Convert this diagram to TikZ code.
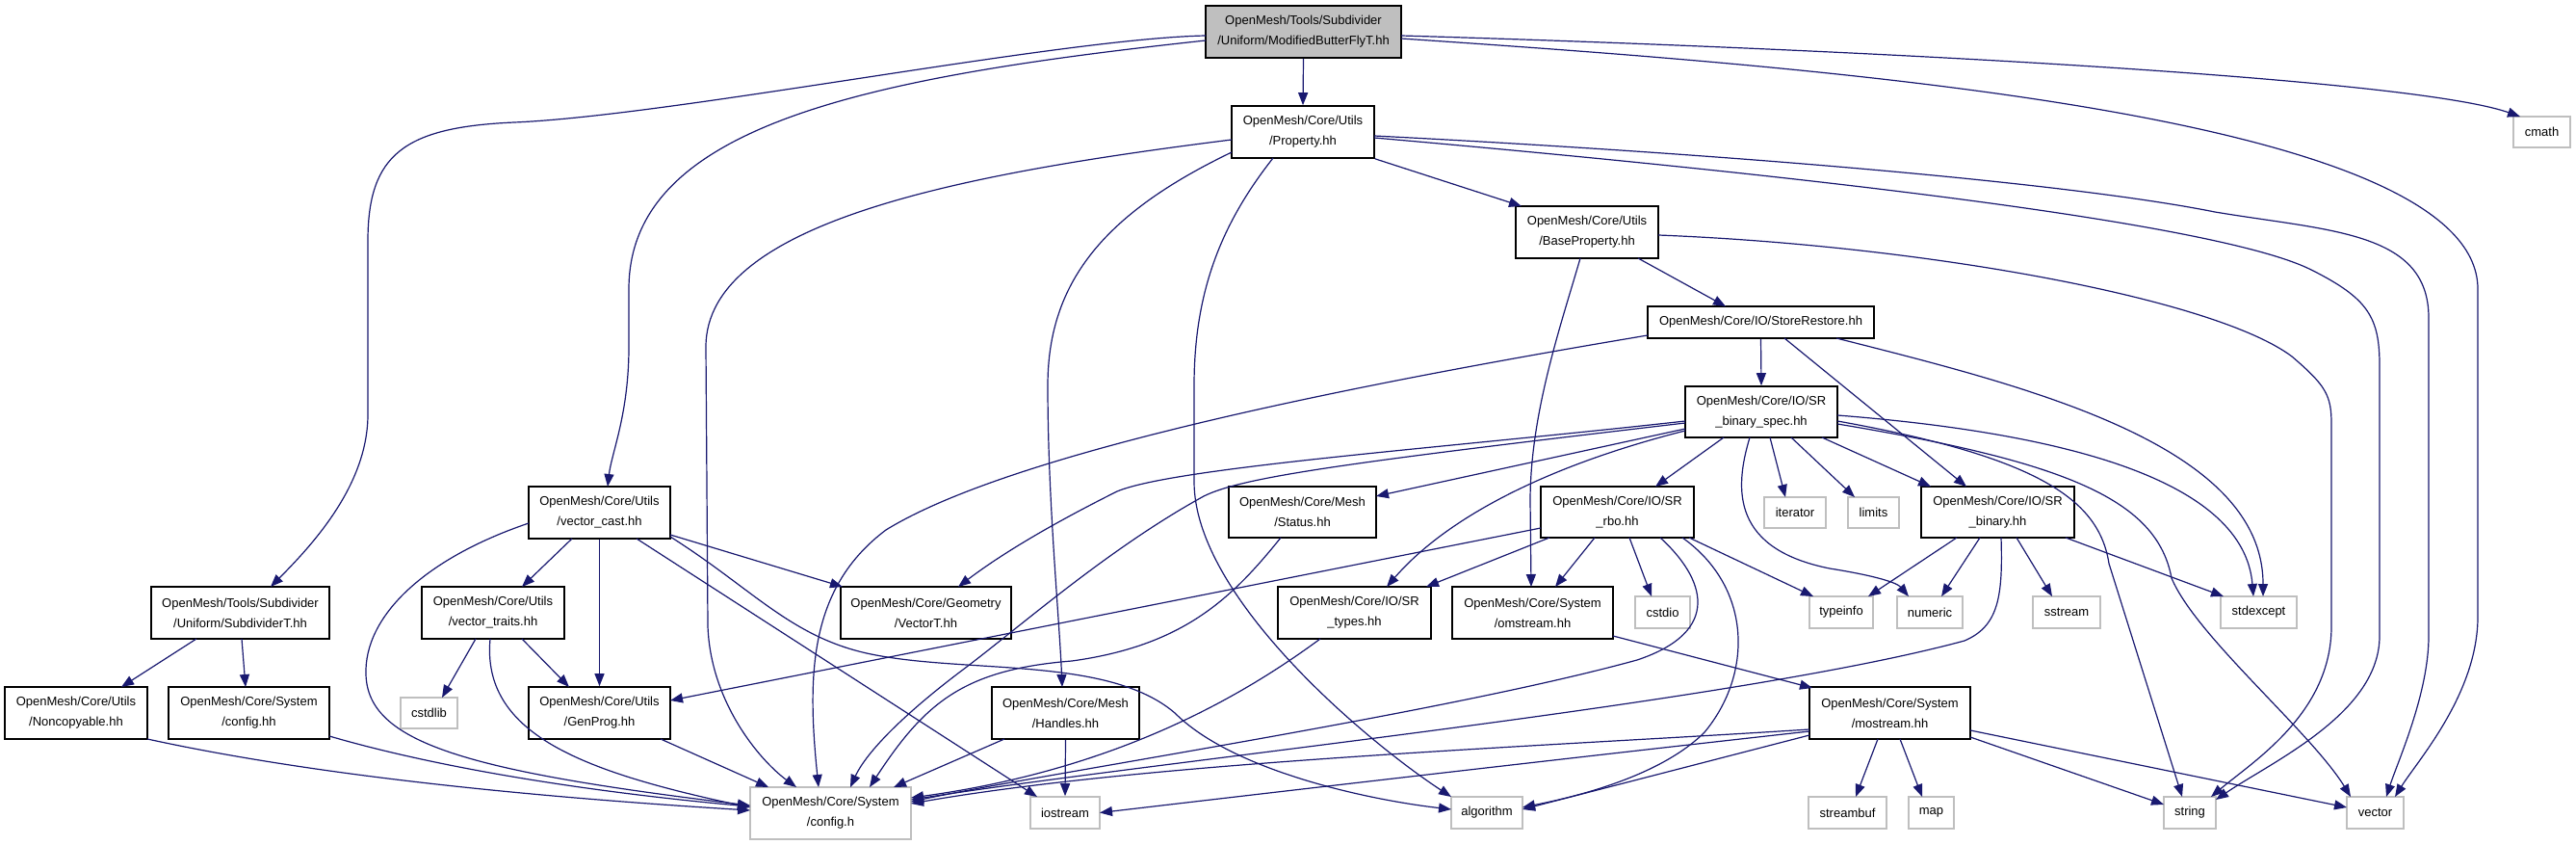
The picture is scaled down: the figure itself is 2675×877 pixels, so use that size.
\documentclass[tikz,border=0pt]{standalone}
\usepackage{fontspec}
\setmainfont{Liberation Sans}
\usetikzlibrary{arrows.meta}
\definecolor{edgec}{HTML}{191970}
\definecolor{greyb}{HTML}{BFBFBF}
\begin{document}
\begin{tikzpicture}[x=0.5pt,y=-0.5pt,
  box/.style={draw, line width=0.8pt, inner sep=0pt, align=center, font=\fontsize{6.5pt}{10.5pt}\selectfont},
  doc/.style={box, draw=black},
  ext/.style={box, draw=greyb},
  rootbox/.style={box, draw=black, fill=greyb},
  dep/.style={draw=edgec, line width=0.6pt, -{Triangle[length=6.5pt,width=5pt]}},
]
\fill[white] (0,0) rectangle (2675,877);
\useasboundingbox (0,0) rectangle (2675,877);

% rank 0
\node[rootbox, minimum width=101.5pt, minimum height=27pt] (root) at (1353.5,33) {OpenMesh/Tools/Subdivider\\/Uniform/ModifiedButterFlyT.hh};
% rank 1
\node[doc, minimum width=74pt, minimum height=27pt] (prop) at (1353,137) {OpenMesh/Core/Utils\\/Property.hh};
\node[ext, minimum width=29.5pt, minimum height=16pt] (cmath) at (2639.5,137) {cmath};
% rank 2
\node[doc, minimum width=74pt, minimum height=27pt] (basep) at (1648,241) {OpenMesh/Core/Utils\\/BaseProperty.hh};
% rank 3
\node[doc, minimum width=117.5pt, minimum height=16.5pt] (store) at (1828.5,334.5) {OpenMesh/Core/IO/StoreRestore.hh};
% rank 4
\node[doc, minimum width=79pt, minimum height=26.5pt] (bspec) at (1829,427.5) {OpenMesh/Core/IO/SR\\\_binary\_spec.hh};
% rank 5
\node[doc, minimum width=73.5pt, minimum height=27pt] (vcast) at (622.5,532) {OpenMesh/Core/Utils\\/vector\_cast.hh};
\node[doc, minimum width=76.5pt, minimum height=26.5pt] (status) at (1352.5,531.5) {OpenMesh/Core/Mesh\\/Status.hh};
\node[doc, minimum width=79.5pt, minimum height=26.5pt] (rbo) at (1679.5,531.5) {OpenMesh/Core/IO/SR\\\_rbo.hh};
\node[ext, minimum width=32pt, minimum height=16pt] (iter) at (1864,532) {iterator};
\node[ext, minimum width=26.5pt, minimum height=16pt] (limits) at (1945.5,532) {limits};
\node[doc, minimum width=79.5pt, minimum height=26.5pt] (binary) at (2074.5,531.5) {OpenMesh/Core/IO/SR\\\_binary.hh};
% rank 6
\node[doc, minimum width=92.5pt, minimum height=27pt] (subdiv) at (249.5,636) {OpenMesh/Tools/Subdivider\\/Uniform/SubdividerT.hh};
\node[doc, minimum width=74pt, minimum height=27pt] (vtraits) at (512,636) {OpenMesh/Core/Utils\\/vector\_traits.hh};
\node[doc, minimum width=88.5pt, minimum height=27pt] (vecT) at (961.5,636) {OpenMesh/Core/Geometry\\/VectorT.hh};
\node[doc, minimum width=79.5pt, minimum height=27pt] (srtypes) at (1406.5,636) {OpenMesh/Core/IO/SR\\\_types.hh};
\node[doc, minimum width=83.5pt, minimum height=27pt] (omstr) at (1591.5,636) {OpenMesh/Core/System\\/omstream.hh};
\node[ext, minimum width=28.5pt, minimum height=16.5pt] (cstdio) at (1726.5,635.5) {cstdio};
\node[ext, minimum width=33pt, minimum height=16.5pt] (typeinfo) at (1912,635.5) {typeinfo};
\node[ext, minimum width=34pt, minimum height=16.5pt] (numeric) at (2004,635.5) {numeric};
\node[ext, minimum width=35pt, minimum height=16.5pt] (sstream) at (2146,635.5) {sstream};
\node[ext, minimum width=39.5pt, minimum height=16.5pt] (stdexc) at (2345.5,635.5) {stdexcept};
% rank 7
\node[doc, minimum width=74pt, minimum height=27pt] (noncopy) at (79,740) {OpenMesh/Core/Utils\\/Noncopyable.hh};
\node[doc, minimum width=83.5pt, minimum height=27pt] (confhh) at (258.5,740) {OpenMesh/Core/System\\/config.hh};
\node[ext, minimum width=29.5pt, minimum height=16pt] (cstdlib) at (445.5,740) {cstdlib};
\node[doc, minimum width=73.5pt, minimum height=27pt] (genprog) at (622.5,740) {OpenMesh/Core/Utils\\/GenProg.hh};
\node[doc, minimum width=76.5pt, minimum height=27pt] (handles) at (1106.5,740) {OpenMesh/Core/Mesh\\/Handles.hh};
\node[doc, minimum width=83.5pt, minimum height=27pt] (mostr) at (1962.5,740) {OpenMesh/Core/System\\/mostream.hh};
% rank 8
\node[ext, minimum width=83.5pt, minimum height=27pt] (configh) at (862.5,844) {OpenMesh/Core/System\\/config.h};
\node[ext, minimum width=36pt, minimum height=16.5pt] (iostr) at (1106,843.5) {iostream};
\node[ext, minimum width=37pt, minimum height=16.5pt] (algo) at (1544,843.5) {algorithm};
\node[ext, minimum width=40.5pt, minimum height=16.5pt] (streambuf) at (1918.5,843.5) {streambuf};
\node[ext, minimum width=23.5pt, minimum height=16.5pt] (map) at (2005.5,843.5) {map};
\node[ext, minimum width=27pt, minimum height=16.5pt] (string) at (2274,843.5) {string};
\node[ext, minimum width=29.5pt, minimum height=16.5pt] (vector) at (2466.5,843.5) {vector};

% ---- edges from root
\draw[dep] (root.south) -- (prop.north);
\draw[dep] ([shift={(-101.5,9)}]root.center) .. controls (900,80) and (653,130) .. (653,300) -- (653,360) .. controls (653,430) and (635,470) .. ([shift={(8.5,-27)}]vcast.center);
\draw[dep] ([shift={(-101.5,4)}]root.center) .. controls (1100,40) and (700,120) .. (534,127) .. controls (420,132) and (382,160) .. (382,250) -- (382,430) .. controls (382,500) and (330,560) .. ([shift={(31.5,-27)}]subdiv.center);
\draw[dep] ([shift={(101.5,4)}]root.center) .. controls (1900,50) and (2500,80) .. ([shift={(-22.5,-16)}]cmath.center);
\draw[dep] ([shift={(101.5,7)}]root.center) .. controls (1900,70) and (2573,120) .. (2573,300) -- (2573,640) .. controls (2573,720) and (2510,790) .. ([shift={(20.5,-16.5)}]vector.center);

% ---- Property
\draw[dep] (prop.south east) -- ([shift={(-68,-27)}]basep.center);
\draw[dep] ([shift={(-74,8)}]prop.center) .. controls (1000,180) and (733,230) .. (733,360) -- (735,650) .. controls (738,730) and (790,790) .. ([shift={(-35.5,-27)}]configh.center);
\draw[dep] ([shift={(-74,21)}]prop.center) .. controls (1150,220) and (1088,290) .. (1088,400) .. controls (1088,520) and (1100,640) .. ([shift={(-3.5,-27)}]handles.center);
\draw[dep] ([shift={(-31,27)}]prop.center) .. controls (1270,230) and (1240,300) .. (1240,400) -- (1240,500) .. controls (1240,620) and (1420,770) .. ([shift={(-37,-16.5)}]algo.center);
\draw[dep] ([shift={(74,4)}]prop.center) .. controls (1800,160) and (2150,190) .. (2300,220) .. controls (2420,240) and (2522,240) .. (2522,330) -- (2522,660) .. controls (2522,720) and (2490,790) .. ([shift={(11.5,-16.5)}]vector.center);
\draw[dep] ([shift={(74,6)}]prop.center) .. controls (1850,180) and (2300,230) .. (2400,280) .. controls (2460,310) and (2471,330) .. (2471,380) -- (2471,660) .. controls (2471,740) and (2360,790) .. ([shift={(27,-13.5)}]string.center);

% ---- BaseProperty
\draw[dep] ([shift={(53,27)}]basep.center) -- ([shift={(-36.5,-16.5)}]store.center);
\draw[dep] ([shift={(-7,27)}]basep.center) .. controls (1620,340) and (1589,430) .. (1589,520) -- ([shift={(-1.5,-27)}]omstr.center);
\draw[dep] ([shift={(74,3)}]basep.center) .. controls (2000,255) and (2300,310) .. (2380,370) .. controls (2415,400) and (2421,410) .. (2421,440) -- (2421,650) .. controls (2421,740) and (2340,790) .. ([shift={(22,-16.5)}]string.center);

% ---- StoreRestore
\draw[dep] (store.south) -- (bspec.north);
\draw[dep] ([shift={(24.5,16.5)}]store.center) -- ([shift={(-32.5,-26.5)}]binary.center);
\draw[dep] ([shift={(78.5,16.5)}]store.center) .. controls (2100,400) and (2350,460) .. ([shift={(4.5,-16.5)}]stdexc.center);
\draw[dep] ([shift={(-117.5,13.5)}]store.center) .. controls (1400,400) and (1050,470) .. (920,550) .. controls (840,610) and (838,700) .. ([shift={(-12.5,-27)}]configh.center);

% ---- SR_binary_spec
\draw[dep] ([shift={(-79,9.5)}]bspec.center) .. controls (1500,465) and (1220,485) .. (1160,510) .. controls (1090,545) and (1040,575) .. ([shift={(33.5,-27)}]vecT.center);
\draw[dep] ([shift={(-79,11.5)}]bspec.center) .. controls (1400,480) and (1290,495) .. (1250,515) .. controls (1150,570) and (1060,650) .. (1000,695) .. controls (940,740) and (900,780) .. ([shift={(20.5,-27)}]configh.center);
\draw[dep] ([shift={(-79,17.5)}]bspec.center) -- ([shift={(76.5,-16.5)}]status.center);
\draw[dep] ([shift={(-79,19.5)}]bspec.center) .. controls (1600,485) and (1500,540) .. ([shift={(33.5,-27)}]srtypes.center);
\draw[dep] ([shift={(-39,26.5)}]bspec.center) -- ([shift={(39.5,-26.5)}]rbo.center);
\draw[dep] ([shift={(9,26.5)}]bspec.center) -- ([shift={(-10,-16)}]iter.center);
\draw[dep] ([shift={(31,26.5)}]bspec.center) -- ([shift={(-19.5,-16)}]limits.center);
\draw[dep] ([shift={(63,26.5)}]bspec.center) -- ([shift={(-69.5,-26.5)}]binary.center);
\draw[dep] ([shift={(-12,26.5)}]bspec.center) .. controls (1800,510) and (1800,570) .. (1900,590) .. controls (1950,598) and (1970,605) .. ([shift={(-22,-16.5)}]numeric.center);
\draw[dep] ([shift={(79,3.5)}]bspec.center) .. controls (2150,450) and (2330,500) .. ([shift={(-5.5,-16.5)}]stdexc.center);
\draw[dep] ([shift={(79,9.5)}]bspec.center) .. controls (2120,475) and (2180,520) .. (2190,585) -- ([shift={(-8,-16.5)}]string.center);
\draw[dep] ([shift={(79,12.5)}]bspec.center) .. controls (2150,480) and (2240,520) .. (2255,600) .. controls (2280,660) and (2400,760) .. ([shift={(-25.5,-16.5)}]vector.center);

% ---- SR_rbo
\draw[dep] ([shift={(-79.5,16.5)}]rbo.center) -- ([shift={(73.5,-13)}]genprog.center);
\draw[dep] ([shift={(-70.5,26.5)}]rbo.center) -- ([shift={(74.5,-27)}]srtypes.center);
\draw[dep] ([shift={(-23.5,26.5)}]rbo.center) -- ([shift={(23.5,-27)}]omstr.center);
\draw[dep] ([shift={(12.5,26.5)}]rbo.center) -- ([shift={(-11.5,-16.5)}]cstdio.center);
\draw[dep] ([shift={(44.5,26.5)}]rbo.center) .. controls (1770,600) and (1790,655) .. (1700,685) .. controls (1500,740) and (1100,800) .. ([shift={(83.5,-12)}]configh.center);
\draw[dep] ([shift={(67.5,26.5)}]rbo.center) .. controls (1820,610) and (1820,700) .. (1770,760) .. controls (1720,810) and (1620,830) .. ([shift={(37,-5.5)}]algo.center);
\draw[dep] ([shift={(74.5,26.5)}]rbo.center) -- ([shift={(-29,-16.5)}]typeinfo.center);

% ---- SR_binary
\draw[dep] ([shift={(-42.5,26.5)}]binary.center) -- ([shift={(28,-16.5)}]typeinfo.center);
\draw[dep] ([shift={(-18.5,26.5)}]binary.center) -- ([shift={(12,-16.5)}]numeric.center);
\draw[dep] ([shift={(3.5,26.5)}]binary.center) .. controls (2080,620) and (2075,650) .. (2040,665) .. controls (1800,730) and (1200,790) .. ([shift={(83.5,-14)}]configh.center);
\draw[dep] ([shift={(19.5,26.5)}]binary.center) -- ([shift={(-15,-16.5)}]sstream.center);
\draw[dep] ([shift={(70.5,26.5)}]binary.center) -- ([shift={(-36.5,-16.5)}]stdexc.center);

% ---- Status
\draw[dep] ([shift={(-22.5,26.5)}]status.center) .. controls (1280,620) and (1230,670) .. (1113,686) .. controls (1000,695) and (960,730) .. ([shift={(40.5,-27)}]configh.center);

% ---- vector_cast
\draw[dep] ([shift={(-73.5,11)}]vcast.center) .. controls (440,580) and (378,640) .. (380,700) .. controls (382,770) and (480,800) .. ([shift={(-83.5,-8)}]configh.center);
\draw[dep] ([shift={(-28.5,27)}]vcast.center) -- ([shift={(30,-27)}]vtraits.center);
\draw[dep] (vcast.south) -- (genprog.north);
\draw[dep] ([shift={(38.5,27)}]vcast.center) -- ([shift={(-29,-16.5)}]iostr.center);
\draw[dep] ([shift={(73.5,25)}]vcast.center) .. controls (780,610) and (820,660) .. (900,678) .. controls (1000,700) and (1150,680) .. (1220,740) .. controls (1280,800) and (1420,830) .. ([shift={(-37,-3.5)}]algo.center);
\draw[dep] ([shift={(73.5,23)}]vcast.center) -- ([shift={(-86.5,-27)}]vecT.center);

% ---- vector_traits
\draw[dep] ([shift={(-18,27)}]vtraits.center) -- ([shift={(13.5,-16)}]cstdlib.center);
\draw[dep] ([shift={(-3,27)}]vtraits.center) .. controls (500,760) and (600,800) .. ([shift={(-83.5,-6)}]configh.center);
\draw[dep] ([shift={(30,27)}]vtraits.center) -- ([shift={(-31.5,-27)}]genprog.center);

% ---- SubdividerT
\draw[dep] ([shift={(-45.5,27)}]subdiv.center) -- ([shift={(47,-27)}]noncopy.center);
\draw[dep] ([shift={(1.5,27)}]subdiv.center) -- ([shift={(-3.5,-27)}]confhh.center);

% ---- others into config.h etc.
\draw[dep] ([shift={(74,27)}]noncopy.center) .. controls (350,810) and (600,830) .. ([shift={(-83.5,-3)}]configh.center);
\draw[dep] ([shift={(83.5,24)}]confhh.center) .. controls (500,810) and (700,830) .. ([shift={(-83.5,-7)}]configh.center);
\draw[dep] ([shift={(63.5,27)}]genprog.center) -- ([shift={(-64.5,-27)}]configh.center);
\draw[dep] ([shift={(-63.5,27)}]handles.center) -- ([shift={(65.5,-27)}]configh.center);
\draw[dep] (handles.south) -- (iostr.north);
\draw[dep] ([shift={(-35.5,27)}]srtypes.center) .. controls (1280,730) and (1150,800) .. ([shift={(83.5,-16)}]configh.center);
\draw[dep] ([shift={(83.5,24)}]omstr.center) -- ([shift={(-80.5,-26)}]mostr.center);

% ---- mostream
\draw[dep] ([shift={(-83.5,17)}]mostr.center) .. controls (1600,775) and (1200,790) .. ([shift={(83.5,-10)}]configh.center);
\draw[dep] ([shift={(-83.5,19)}]mostr.center) .. controls (1600,790) and (1300,825) .. ([shift={(36,0)}]iostr.center);
\draw[dep] ([shift={(-83.5,23)}]mostr.center) -- ([shift={(37,-3.5)}]algo.center);
\draw[dep] ([shift={(-12.5,27)}]mostr.center) -- ([shift={(8.5,-16.5)}]streambuf.center);
\draw[dep] ([shift={(10.5,27)}]mostr.center) -- ([shift={(-9.5,-16.5)}]map.center);
\draw[dep] ([shift={(83.5,25)}]mostr.center) -- ([shift={(-27,-8.5)}]string.center);
\draw[dep] ([shift={(83.5,18)}]mostr.center) -- ([shift={(-29.5,-5.5)}]vector.center);
\end{tikzpicture}
\end{document}
